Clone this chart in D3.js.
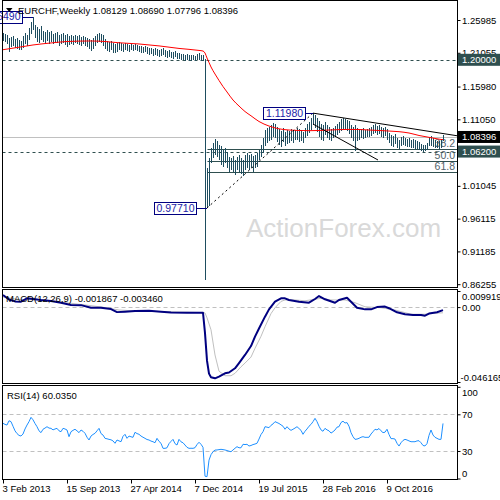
<!DOCTYPE html>
<html><head><meta charset="utf-8">
<script src="https://cdn.jsdelivr.net/npm/d3@7"></script>
<style>
html,body{margin:0;padding:0;background:#fff;}
svg{display:block;}
</style></head><body>
<svg id="c" width="500" height="500"></svg>
<script>
// ---------------- DATA ----------------
const titleText = "EURCHF,Weekly";
const lastOHLC = ["1.08129", "1.08690", "1.07796", "1.08396"];
const bidPrice = 1.08396;

const barHigh = [
1.2403,1.2388,1.2373,1.2328,1.2343,1.2358,1.2313,1.2328,1.2298,1.2283,
1.2358,1.2403,1.2373,1.2478,1.2568,1.2649,1.2523,1.2493,1.2463,1.2508,
1.2433,1.2418,1.2448,1.2418,1.2433,1.2388,1.2403,1.2418,1.2373,1.2388,
1.2403,1.2373,1.2388,1.2358,1.2373,1.2358,1.2373,1.2358,1.2373,1.2343,
1.2358,1.2343,1.2328,1.2313,1.2298,1.2328,1.2358,1.2388,1.2403,1.2388,
1.2373,1.2313,1.2283,1.2268,1.2283,1.2253,1.2238,1.2253,1.2268,1.2253,
1.2238,1.2253,1.2238,1.2223,1.2238,1.2223,1.2238,1.2223,1.2208,1.2208,
1.2193,1.2208,1.2193,1.2177,1.2177,1.2162,1.2177,1.2162,1.2147,1.2162,
1.2177,1.2147,1.2132,1.2147,1.2117,1.2117,1.2132,1.2102,1.2102,1.2087,
1.2087,1.2072,1.2087,1.2072,1.2072,1.2072,1.2057,1.2087,1.2102,1.2072,
1.2072,1.2012,1.0373,1.0523,1.0673,1.0749,1.0809,1.0779,1.0719,1.0703,
1.0643,1.0673,1.0613,1.0538,1.0523,1.0553,1.0493,1.0538,1.0568,1.0523,
1.0493,1.0568,1.0598,1.0568,1.0583,1.0553,1.0568,1.0598,1.0643,1.0719,
1.0824,1.0944,1.0974,1.0989,1.1019,1.1049,1.1034,1.0989,1.0959,1.0929,
1.0974,1.0914,1.0944,1.0929,1.0959,1.0929,1.0944,1.0974,1.0959,1.0944,
1.0914,1.0974,1.1034,1.1064,1.1125,1.1198,1.1170,1.1125,1.1080,1.1034,
1.1019,1.1064,1.1019,1.0989,1.0959,1.0974,1.1004,1.1034,1.1064,1.1110,
1.1125,1.1110,1.1095,1.1080,1.1019,1.0989,1.1019,1.0974,1.0944,1.0959,
1.0974,1.0944,1.0959,1.0974,1.0989,1.1019,1.1034,1.1004,1.1019,1.0989,
1.0974,1.0989,1.0959,1.0899,1.0869,1.0854,1.0884,1.0824,1.0794,1.0839,
1.0854,1.0824,1.0809,1.0824,1.0794,1.0809,1.0794,1.0779,1.0764,1.0734,
1.0719,1.0719,1.0749,1.0839,1.0854,1.0824,1.0794,1.0779,1.0779,1.0794,
1.0869];

const barLow = [
1.2283,1.2268,1.2238,1.2117,1.2193,1.2208,1.2177,1.2162,1.2147,1.2147,
1.2177,1.2238,1.2208,1.2298,1.2388,1.2448,1.2328,1.2268,1.2253,1.2298,
1.2268,1.2238,1.2283,1.2238,1.2268,1.2238,1.2253,1.2253,1.2208,1.2238,
1.2253,1.2223,1.2193,1.2223,1.2238,1.2223,1.2253,1.2238,1.2223,1.2208,
1.2238,1.2208,1.2193,1.2162,1.2132,1.2162,1.2208,1.2253,1.2268,1.2253,
1.2208,1.2162,1.2132,1.2117,1.2147,1.2102,1.2102,1.2117,1.2147,1.2132,
1.2117,1.2147,1.2132,1.2117,1.2147,1.2132,1.2147,1.2132,1.2117,1.2102,
1.2102,1.2117,1.2087,1.2072,1.2087,1.2057,1.2072,1.2057,1.2042,1.2057,
1.2072,1.2042,1.2027,1.2042,1.2027,1.2012,1.2042,1.2012,1.2012,1.1997,
1.1997,1.1982,1.1997,1.1982,1.1982,1.1997,1.1982,1.1997,1.1997,1.1982,
1.1982,0.8688,0.9771,0.9801,1.0448,1.0523,1.0568,1.0538,1.0493,1.0418,
1.0388,1.0448,1.0373,1.0312,1.0342,1.0312,1.0267,1.0342,1.0312,1.0282,
1.0252,1.0342,1.0373,1.0342,1.0373,1.0312,1.0373,1.0388,1.0493,1.0538,
1.0598,1.0703,1.0749,1.0779,1.0794,1.0839,1.0824,1.0764,1.0719,1.0688,
1.0764,1.0703,1.0734,1.0749,1.0779,1.0749,1.0794,1.0794,1.0764,1.0779,
1.0749,1.0824,1.0854,1.0899,1.0944,1.1019,1.0974,1.0914,1.0839,1.0794,
1.0779,1.0869,1.0824,1.0794,1.0779,1.0824,1.0839,1.0869,1.0899,1.0929,
1.0959,1.0944,1.0929,1.0884,1.0824,1.0779,1.0625,1.0779,1.0794,1.0824,
1.0809,1.0824,1.0839,1.0839,1.0854,1.0884,1.0899,1.0869,1.0884,1.0839,
1.0824,1.0854,1.0794,1.0749,1.0703,1.0688,1.0734,1.0673,1.0658,1.0703,
1.0719,1.0703,1.0688,1.0688,1.0673,1.0673,1.0658,1.0658,1.0643,1.0628,
1.0613,1.0628,1.0643,1.0703,1.0703,1.0688,1.0673,1.0673,1.0658,1.0673,
1.0780];

const maIdx = [0,8,15,24,32,44,51,58,68,78,88,98,100,101,102,103,104,106,108,110,112,115,118,121,124,128,133,138,143,148,153,158,163,168,173,178,183,188,193,198,203,208,213,218,220];
const maVal = [1.2152,1.2189,1.2223,1.2253,1.2275,1.2283,1.2275,1.2256,1.2238,1.2209,
1.2171,1.2141,1.2132,1.2102,1.2027,1.1959,1.1892,1.1786,1.1689,1.1598,
1.1516,1.1395,1.1305,1.1222,1.1158,1.1072,1.1004,1.0962,1.0944,1.0937,
1.0934,1.0937,1.0944,1.0950,1.0953,1.0952,1.0944,1.0937,1.0929,1.0919,
1.0899,1.0862,1.0834,1.0807,1.0798];

const macdIdx = [0,3,6,9,12,15,19,24,29,34,39,44,49,54,57,61,66,73,79,84,92,100,101,102,103,104,106,108,111,113,116,118,121,124,126,128,131,133,136,139,141,143,148,153,156,158,161,166,168,172,174,177,181,184,187,191,193,197,201,205,209,211,213,217,220];
const macdMain = [0.0075,0.0047,0.0035,0.0033,0.0054,0.0050,0.0044,0.0038,0.0027,0.0013,
0.0012,-0.0004,-0.0004,-0.0012,-0.0031,-0.0028,-0.0024,-0.0023,-0.0028,-0.0034,
-0.0035,-0.0035,-0.0160,-0.0330,-0.0410,-0.0432,-0.0439,-0.0428,-0.0408,-0.0403,
-0.0377,-0.0345,-0.0295,-0.0240,-0.0182,-0.0132,-0.0059,-0.0014,0.0033,0.0054,
0.0054,0.0044,0.0033,0.0027,0.0050,0.0068,0.0048,0.0027,0.0044,0.0058,
0.0033,-0.0004,-0.0014,-0.0014,0.0000,0.0003,-0.0007,-0.0032,-0.0044,-0.0049,
-0.0049,-0.0053,-0.0040,-0.0032,-0.0019];
const signalIdx = [0,9,19,29,39,49,58,68,84,100,101,102,104,106,108,111,114,116,119,121,124,126,129,131,134,136,139,141,146,151,159,164,171,176,181,189,196,204,211,216,220];
const signalVal = [0.0062,0.0045,0.0046,0.0031,0.0016,0.0001,-0.0018,-0.0025,-0.0029,-0.0034,
-0.0036,-0.0066,-0.0140,-0.0295,-0.0395,-0.0423,-0.0423,-0.0408,-0.0368,-0.0345,
-0.0308,-0.0254,-0.0180,-0.0121,-0.0040,-0.0004,0.0035,0.0044,0.0044,0.0039,
0.0054,0.0044,0.0044,0.0027,0.0002,-0.0004,-0.0018,-0.0044,-0.0044,-0.0038,
-0.0035];
const macdLabel = "MACD(12,26,9) -0.001867 -0.003460";
const macdTickVals = [0.009919, 0, -0.046165];
const macdTickText = ["0.009919", "0.00", "-0.046165"];

const rsiVals = [
60.2,59,58.3,63,62,57,52,49,47,46.3,
48.5,54,58.3,62,66.7,64,60,56.5,52,50,
53.7,55,56.5,55,54.7,53,54,54.7,52,51,
54.7,54,52.9,45.6,51,52.5,53.7,52,50,52.9,
51.5,49.3,45,42,46.3,48,49.3,52,54.7,49,
47.4,43.8,43.3,42.7,42.2,41,38.4,42,41,40.1,
46,48.2,43.8,46.3,45.5,44.9,50.4,49,48.2,46.3,
45,43.8,42.5,42,40.8,40.1,39,43.8,40.5,38.4,
32.9,32.9,33.5,38,40.5,42.7,38,36.5,42.7,40,
39,36.5,34,32.9,33,32.9,33.6,37,39.5,37.3,
34,2.5,2,20,26,29.2,31,31.1,31.5,31.8,
31.5,31.1,30.5,29.8,29.2,31.1,33,34.7,33.5,33.5,
37.3,37,37.3,35.4,36,37,37.6,38.4,43,48,
51,56.5,56,55.4,58,59.5,62,61,60,58.5,
57,53.7,56.5,54,52.5,53.7,55,56.5,54.5,52.5,
48.2,51.5,54,57,59,62,65.6,62,57,53,
51.5,54.7,53,52,49.5,51,52.9,56,56.5,61,
62.5,60.5,61,57,50,45.6,42.7,43,43.8,45,
45.6,44.9,44.9,45,48.5,51,53.7,53,54.5,52,
50,50.5,53.7,48,43.5,43.5,43,38.4,35.4,39,
41.5,42.7,42,41,40.1,40.1,40.1,41,41.2,39,
36,35.5,38,47,52.9,47.4,44.9,43.8,42.7,42.7,
60.035];
const rsiLabel = "RSI(14) 60.0350";
const rsiTicks = [100, 70, 30, 0];
const rsiLevels = [70, 30];

const xTickIdx = [0, 32, 64, 96, 128, 160, 192];
const xTickLabels = ["3 Feb 2013", "15 Sep 2013", "27 Apr 2014", "7 Dec 2014", "19 Jul 2015", "28 Feb 2016", "9 Oct 2016"];
const priceTicks = [1.25985, 1.21055, 1.15980, 1.11050, 1.06120, 1.01045, 0.96115, 0.91185, 0.86255];
const hLevels = [1.20000, 1.06200];
const fibLevels = [38.2, 50.0, 61.8];
const swingLowIdx = 102, swingLowPrice = 0.97710;
const swingHighIdx = 155, swingHighPrice = 1.11980;
const topIdx = 15, topPrice = 1.26490;
const upperLine = [[155, 1.1198], [227, 1.0858]];
const lowerLine = [[155, 1.1034], [187.5, 1.0493]];
const watermark = "ActionForex.com";

// ---------------- DRAW ----------------
const FONT = "'Liberation Sans', Arial, sans-serif";
const svg = d3.select("#c").style("font-family", FONT);
const L = 2.5, R = 457.5;
const x = d3.scaleLinear().domain([0, 220]).range([3, 443]);
const yP = d3.scaleLinear().domain([0.86255, 1.25985]).range([284.2, 20]);
const yM = d3.scaleLinear().domain([-0.046165, 0.009919]).range([382, 291]);
const yR = d3.scaleLinear().domain([0, 100]).range([478.5, 386.8]);
const px = i => Math.round(x(i)) + 0.5;
const FS = 9.5;

const defs = svg.append("defs");
defs.append("clipPath").attr("id", "cm").append("rect").attr("x", 3).attr("y", 1).attr("width", 454).attr("height", 286);
defs.append("clipPath").attr("id", "cd").append("rect").attr("x", 3).attr("y", 290).attr("width", 454).attr("height", 93);
defs.append("clipPath").attr("id", "cr").append("rect").attr("x", 3).attr("y", 386).attr("width", 454).attr("height", 93);

// watermark
svg.append("text").attr("x", 246).attr("y", 237).attr("font-size", 26).attr("fill", "#d9d9d9").text(watermark);

// ---- main panel ----
const gm = svg.append("g").attr("clip-path", "url(#cm)");
gm.append("line").attr("x1", L).attr("x2", R).attr("y1", Math.round(yP(bidPrice)) + 0.5).attr("y2", Math.round(yP(bidPrice)) + 0.5)
  .attr("stroke", "#c0c0c0");
gm.selectAll("line.hl").data(hLevels).join("line").attr("class", "hl")
  .attr("x1", L).attr("x2", R).attr("y1", d => Math.round(yP(d)) + 0.5).attr("y2", d => Math.round(yP(d)) + 0.5)
  .attr("stroke", "#2f4f4f").attr("stroke-dasharray", "3,3");
const fibPrice = lv => swingHighPrice - (swingHighPrice - swingLowPrice) * lv / 100;
gm.selectAll("line.fib").data(fibLevels).join("line").attr("class", "fib")
  .attr("x1", px(swingLowIdx)).attr("x2", R).attr("y1", d => Math.round(yP(fibPrice(d))) + 0.5).attr("y2", d => Math.round(yP(fibPrice(d))) + 0.5)
  .attr("stroke", "#2f4f4f");
gm.selectAll("text.fib").data(fibLevels).join("text").attr("class", "fib")
  .attr("x", 455).attr("y", d => yP(fibPrice(d)) - 2).attr("text-anchor", "end")
  .attr("font-size", 10.5).attr("fill", "#52626a").text(d => d.toFixed(1));
// bars
gm.selectAll("line.bar").data(d3.range(barHigh.length)).join("line").attr("class", "bar")
  .attr("x1", px).attr("x2", px).attr("y1", i => yP(barHigh[i])).attr("y2", i => yP(barLow[i]))
  .attr("stroke", "#1e4d5f").attr("stroke-width", 1).attr("shape-rendering", "crispEdges");
// MA
gm.append("path").datum(maIdx.map((d, k) => [d, maVal[k]]))
  .attr("fill", "none").attr("stroke", "#ff0000").attr("stroke-width", 1)
  .attr("d", d3.line().x(d => x(d[0])).y(d => yP(d[1])).curve(d3.curveMonotoneX));
// trend lines
[upperLine, lowerLine].forEach(ln => {
  gm.append("line").attr("x1", x(ln[0][0])).attr("y1", yP(ln[0][1])).attr("x2", x(ln[1][0])).attr("y2", yP(ln[1][1]))
    .attr("stroke", "#000").attr("stroke-width", 1);
});
gm.append("line").attr("x1", x(swingLowIdx)).attr("y1", yP(swingLowPrice)).attr("x2", x(swingHighIdx)).attr("y2", yP(swingHighPrice))
  .attr("stroke", "#000").attr("stroke-dasharray", "2,3");

// price labels boxes
function priceBox(idx, price, off) {
  const cy = yP(price), bx = x(idx) - off;
  svg.append("line").attr("x1", bx).attr("x2", x(idx)).attr("y1", Math.round(cy) + 0.5).attr("y2", Math.round(cy) + 0.5).attr("stroke", "#000080");
  svg.append("rect").attr("x", bx - 42.5).attr("y", Math.round(cy) - 5.5).attr("width", 42).attr("height", 12)
    .attr("fill", "#fff").attr("stroke", "#000080");
  svg.append("text").attr("x", bx - 21.5).attr("y", cy).attr("dy", "0.36em").attr("text-anchor", "middle")
    .attr("font-size", 10.5).attr("fill", "#1c1ca8").text(price.toFixed(5));
}
priceBox(swingHighIdx, swingHighPrice, 7);
priceBox(swingLowIdx, swingLowPrice, 10);
priceBox(topIdx, topPrice, 10);

// ---- MACD panel ----
const gd = svg.append("g").attr("clip-path", "url(#cd)");
gd.append("line").attr("x1", L).attr("x2", R).attr("y1", Math.round(yM(0)) + 0.5).attr("y2", Math.round(yM(0)) + 0.5)
  .attr("stroke", "#c0c0c0").attr("stroke-dasharray", "4,3");
gd.append("path").datum(signalIdx.map((d, k) => [d, signalVal[k]]))
  .attr("fill", "none").attr("stroke", "#c0c0c0").attr("stroke-width", 1)
  .attr("d", d3.line().x(d => x(d[0])).y(d => yM(d[1])));
gd.append("path").datum(macdIdx.map((d, k) => [d, macdMain[k]]))
  .attr("fill", "none").attr("stroke", "#000080").attr("stroke-width", 2).attr("stroke-linejoin", "round")
  .attr("d", d3.line().x(d => x(d[0])).y(d => yM(d[1])));

// ---- RSI panel ----
const gr = svg.append("g").attr("clip-path", "url(#cr)");
gr.selectAll("line.lv").data(rsiLevels).join("line").attr("class", "lv")
  .attr("x1", L).attr("x2", R).attr("y1", d => Math.round(yR(d)) + 0.5).attr("y2", d => Math.round(yR(d)) + 0.5)
  .attr("stroke", "#c0c0c0").attr("stroke-dasharray", "4,3");
gr.append("path").datum(rsiVals)
  .attr("fill", "none").attr("stroke", "#1e90ff").attr("stroke-width", 1)
  .attr("d", d3.line().x((d, i) => x(i)).y(d => yR(d)));

// ---- frames ----
[[0.5, 287.5], [289.5, 383.5], [385.5, 479.5]].forEach(([t, b]) => {
  svg.append("rect").attr("x", L).attr("y", t).attr("width", R - L).attr("height", b - t)
    .attr("fill", "none").attr("stroke", "#000").attr("stroke-width", 1);
});

// ---- right axes ----
function styleAxis(g) {
  g.select(".domain").remove();
  g.selectAll(".tick line").attr("stroke", "#000");
  g.selectAll(".tick text").attr("font-size", FS).attr("font-family", FONT).attr("fill", "#000").attr("x", 4.5);
}
svg.append("g").attr("transform", `translate(${R},0)`)
  .call(d3.axisRight(yP).tickValues(priceTicks).tickFormat(d3.format(".5f")).tickSize(3).tickPadding(2))
  .call(styleAxis);
// price markers
const markers = [[hLevels[0], "#2f4f4f"], [bidPrice, "#000000"], [hLevels[1], "#2f4f4f"]];
markers.forEach(([p, col]) => {
  const cy = yP(p);
  svg.append("rect").attr("x", 458).attr("y", cy - 6).attr("width", 42).attr("height", 12).attr("fill", col);
  svg.append("text").attr("x", 462).attr("y", cy).attr("dy", "0.36em").attr("font-size", FS).attr("fill", "#fff").text(p.toFixed(5));
});
// MACD labels
const macdAx = svg.append("g").attr("transform", `translate(${R},0)`)
  .call(d3.axisRight(yM).tickValues(macdTickVals).tickFormat((d, k) => macdTickText[k]).tickSize(3).tickPadding(2))
  .call(styleAxis);
macdAx.selectAll(".tick text").attr("dy", (d, k) => k === 0 ? "0.9em" : (k === 2 ? "-0.2em" : "0.36em"))
  .attr("x", (d, k) => k === 2 ? 3 : 4.5);
// RSI labels
const rsiAx = svg.append("g").attr("transform", `translate(${R},0)`)
  .call(d3.axisRight(yR).tickValues(rsiTicks).tickSize(3).tickPadding(2))
  .call(styleAxis);
rsiAx.selectAll(".tick text").attr("dy", d => d === 100 ? "0.9em" : (d === 0 ? "-0.2em" : "0.36em"));

// ---- bottom axis ----
const xAx = svg.append("g").attr("transform", "translate(0,479.5)")
  .call(d3.axisBottom(x).tickValues(xTickIdx).tickFormat((d, k) => xTickLabels[k]).tickSize(4).tickPadding(2))
  .call(g => g.select(".domain").remove());
xAx.selectAll(".tick line").attr("stroke", "#000");
xAx.selectAll(".tick text").attr("text-anchor", "start").attr("x", -1).attr("font-size", FS).attr("font-family", FONT).attr("fill", "#000");

// ---- titles ----
svg.append("path").attr("d", "M6,8 L12.5,8 L9.25,12 Z").attr("fill", "#000");
svg.append("text").attr("x", 18).attr("y", 13.5).attr("font-size", FS).attr("fill", "#000")
  .text(titleText + "  " + lastOHLC.join(" "));
svg.append("text").attr("x", 6).attr("y", 301.5).attr("font-size", FS).attr("fill", "#000").text(macdLabel);
svg.append("text").attr("x", 7).attr("y", 398.5).attr("font-size", FS).attr("fill", "#000").text(rsiLabel);
</script>
</body></html>
